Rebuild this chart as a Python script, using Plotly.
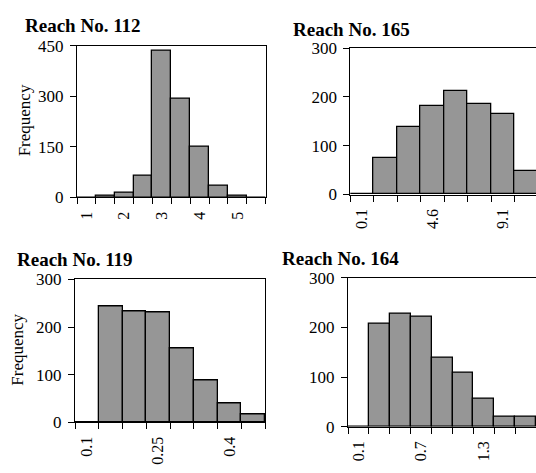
import plotly.graph_objects as go

# ---------------- data ----------------
titles = ["Reach No. 112", "Reach No. 165", "Reach No. 119", "Reach No. 164"]

bins_112 = [1.0, 1.5, 2.0, 2.5, 3.0, 3.5, 4.0, 4.5, 5.0, 5.5]
freq_112 = [0, 6, 13, 65, 434, 292, 149, 35, 6, 0]
labels_112 = [1, 2, 3, 4, 5]

bins_165 = [0.1, 1.6, 3.1, 4.6, 6.1, 7.6, 9.1, 10.6]
freq_165 = [0, 75, 139, 181, 211, 185, 164, 48]
labels_165 = [0.1, 4.6, 9.1]

bins_119 = [0.1, 0.15, 0.2, 0.25, 0.3, 0.35, 0.4, 0.45]
freq_119 = [0, 244, 233, 231, 155, 88, 39, 17]
labels_119 = [0.1, 0.25, 0.4]

bins_164 = [0.1, 0.3, 0.5, 0.7, 0.9, 1.1, 1.3, 1.5, 1.7]
freq_164 = [0, 207, 228, 221, 140, 108, 57, 20, 20]
labels_164 = [0.1, 0.7, 1.3]

yticks_112 = [0, 150, 300, 450]
yticks_other = [0, 100, 200, 300]

# ---------------- layout helpers ----------------
W, H = 536, 473
FONT = "Liberation Serif, Times New Roman, serif"
BAR_COLOR = "#969696"

panels = [
    dict(bins=bins_112, freq=freq_112, labels=labels_112, yt=yticks_112,
         px=(77, 265.7), py=(38.3, 196.3), nvis=None, frame=True),
    dict(bins=bins_165, freq=freq_165, labels=labels_165, yt=yticks_other,
         px=(350.3, 536), py=(40.7, 193.3), nvis=7.91, frame=False),
    dict(bins=bins_119, freq=freq_119, labels=labels_119, yt=yticks_other,
         px=(75, 265), py=(281.7, 430.7), nvis=None, frame=True),
    dict(bins=bins_164, freq=freq_164, labels=labels_164, yt=yticks_other,
         px=(348, 536), py=(280, 435.3), nvis=8.99, frame=False),
]

fig = go.Figure()

for i, p in enumerate(panels, start=1):
    bins, freq = p["bins"], p["freq"]
    step = bins[1] - bins[0]
    edges = [b - step / 2 for b in bins] + [bins[-1] + step / 2]
    x0 = edges[0]
    x1 = edges[-1] if p["nvis"] is None else x0 + p["nvis"] * step
    xa = "x" if i == 1 else f"x{i}"
    ya = "y" if i == 1 else f"y{i}"
    fig.add_trace(go.Bar(
        x=bins, y=freq, width=step,
        marker=dict(color=BAR_COLOR, line=dict(color="black", width=1.3)),
        xaxis=xa, yaxis=ya, showlegend=False, hoverinfo="x+y",
    ))
    xkey = "xaxis" if i == 1 else f"xaxis{i}"
    ykey = "yaxis" if i == 1 else f"yaxis{i}"
    fig.layout[xkey] = dict(
        domain=[p["px"][0] / W, p["px"][1] / W],
        anchor=ya, range=[x0, x1],
        tickmode="array", tickvals=p["labels"],
        ticktext=[str(v) for v in p["labels"]],
        ticks="", tickangle=-90, ticklabelstandoff=7,
        tickfont=dict(family=FONT, size=16, color="black"),
        minor=dict(tickmode="array", tickvals=edges, ticks="outside",
                   ticklen=6, tickwidth=1, tickcolor="black"),
        showline=True, linecolor="black", linewidth=1, mirror=True,
        showgrid=False, zeroline=False, fixedrange=True,
    )
    fig.layout[ykey] = dict(
        domain=[1 - p["py"][1] / H, 1 - p["py"][0] / H],
        anchor=xa, range=[0, p["yt"][-1]],
        tickmode="array", tickvals=p["yt"],
        ticks="outside", ticklen=6, tickwidth=1, tickcolor="black",
        ticklabelstandoff=3,
        tickfont=dict(family=FONT, size=17, color="black"),
        showline=True, linecolor="black", linewidth=1, mirror=p["frame"],
        showgrid=False, zeroline=False, fixedrange=True,
    )

# titles
title_pos = [(22.7, 17.5), (290.7, 21.5), (15, 261.5), (280, 260)]
for t, (tx, ty) in zip(titles, title_pos):
    fig.add_annotation(text=f"<b>{t}</b>", x=tx / W, y=1 - ty / H,
                       xref="paper", yref="paper", xanchor="left", yanchor="middle",
                       showarrow=False, font=dict(family=FONT, size=19, color="black"))

# frequency labels
for fx, fy in [(24, 116), (18, 355)]:
    fig.add_annotation(text="Frequency", x=fx / W, y=1 - fy / H,
                       xref="paper", yref="paper", xanchor="center", yanchor="middle",
                       textangle=-90, showarrow=False,
                       font=dict(family=FONT, size=17, color="black"))

fig.update_layout(
    width=W, height=H, margin=dict(l=0, r=0, t=0, b=0),
    paper_bgcolor="white", plot_bgcolor="white", bargap=0,
)

fig.write_html("out.html")
